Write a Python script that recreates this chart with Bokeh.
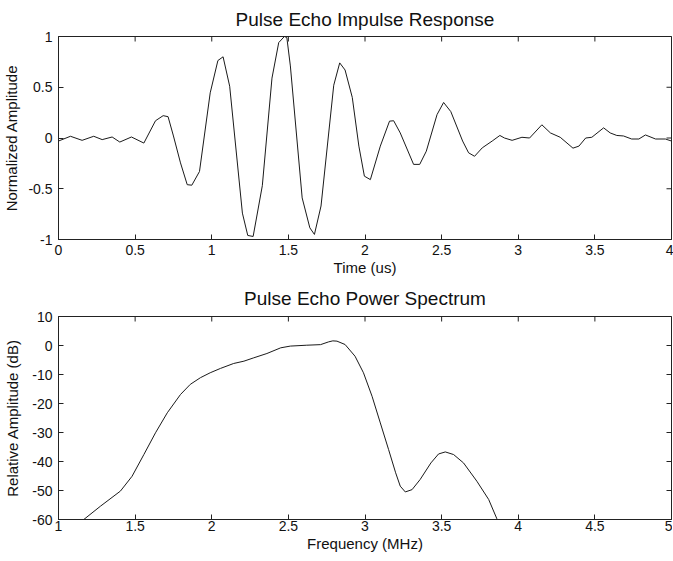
import math
from bokeh.plotting import figure
from bokeh.layouts import column
from bokeh.models import Range1d, FixedTicker
from bokeh.embed import file_html
from bokeh.resources import INLINE

# ---- data: pulse echo impulse response ----
time_us = [0.0, 0.078, 0.154, 0.23, 0.285, 0.35, 0.40, 0.476, 0.557, 0.633, 0.683, 0.715,
           0.75, 0.796, 0.84, 0.87, 0.92, 0.99, 1.04, 1.074, 1.117, 1.20, 1.235, 1.27,
           1.33, 1.393, 1.437, 1.474, 1.49, 1.513, 1.59, 1.64, 1.67, 1.713, 1.796, 1.835,
           1.87, 1.917, 1.96, 1.996, 2.035, 2.10, 2.16, 2.187, 2.23, 2.317, 2.357, 2.40,
           2.47, 2.513, 2.56, 2.637, 2.676, 2.715, 2.765, 2.83, 2.88, 2.91, 2.96, 3.024,
           3.074, 3.154, 3.21, 3.274, 3.357, 3.396, 3.44, 3.48, 3.557, 3.60, 3.643, 3.687,
           3.74, 3.787, 3.83, 3.896, 3.96, 4.0]
amplitude = [-0.03, 0.017, -0.023, 0.017, -0.016, 0.01, -0.04, 0.01, -0.05, 0.17, 0.22, 0.21,
             0.02, -0.245, -0.46, -0.465, -0.33, 0.445, 0.763, 0.80, 0.51, -0.74, -0.96, -0.97,
             -0.47, 0.59, 0.94, 1.0, 0.99, 0.71, -0.59, -0.885, -0.95, -0.67, 0.52, 0.74,
             0.67, 0.40, -0.08, -0.376, -0.41, -0.08, 0.166, 0.17, 0.05, -0.26, -0.26, -0.13,
             0.23, 0.35, 0.26, -0.03, -0.146, -0.18, -0.097, -0.03, 0.025, 0.0, -0.023, 0.007,
             0.0, 0.13, 0.05, 0.007, -0.10, -0.08, 0.0, 0.007, 0.10, 0.05, 0.025, 0.02,
             -0.01, -0.01, 0.03, -0.01, -0.01, -0.03]

# ---- data: pulse echo power spectrum ----
freq_mhz = [1.165, 1.274, 1.404, 1.48, 1.557, 1.633, 1.71, 1.796, 1.86, 1.926, 1.99, 2.057,
            2.143, 2.21, 2.274, 2.36, 2.45, 2.513, 2.62, 2.71, 2.763, 2.79, 2.817, 2.87,
            2.935, 2.99, 3.046, 3.10, 3.154, 3.20, 3.23, 3.263, 3.307, 3.36, 3.43, 3.48,
            3.524, 3.578, 3.643, 3.73, 3.807, 3.861]
power_db = [-60.0, -55.4, -50.2, -45.1, -37.6, -30.1, -23.2, -16.9, -13.4, -11.1, -9.4, -7.9,
            -6.2, -5.4, -4.25, -2.76, -0.8, -0.2, 0.1, 0.3, 1.26, 1.6, 1.5, 0.34,
            -3.7, -9.4, -17.5, -26.7, -35.9, -43.9, -48.5, -50.5, -49.7, -46.2, -40.5, -37.4,
            -36.7, -37.6, -40.5, -46.8, -53.1, -59.8]

# ---- ticks ----
time_ticks = [0, 0.5, 1, 1.5, 2, 2.5, 3, 3.5, 4]
time_tick_labels = ["0", "0.5", "1", "1.5", "2", "2.5", "3", "3.5", "4"]
amp_ticks = [-1, -0.5, 0, 0.5, 1]
amp_tick_labels = ["-1", "-0.5", "0", "0.5", "1"]
freq_ticks = [1, 1.5, 2, 2.5, 3, 3.5, 4, 4.5, 5]
freq_tick_labels = ["1", "1.5", "2", "2.5", "3", "3.5", "4", "4.5", "5"]
db_ticks = [-60, -50, -40, -30, -20, -10, 0, 10]
db_tick_labels = ["-60", "-50", "-40", "-30", "-20", "-10", "0", "10"]

FONT = "Liberation Sans"
INK = "#222222"


def style_axis(ax, ticks, labels):
    ax.ticker = FixedTicker(ticks=ticks)
    ax.major_label_overrides = {t: l for t, l in zip(ticks, labels)}
    ax.major_tick_in = 5
    ax.major_tick_out = 0
    ax.minor_tick_line_color = None
    ax.axis_line_color = INK
    ax.major_tick_line_color = INK
    ax.axis_label_text_font = FONT
    ax.axis_label_text_font_style = "normal"
    ax.axis_label_text_font_size = "15px"
    ax.axis_label_text_color = "#111111"
    ax.major_label_text_font = FONT
    ax.major_label_text_font_size = "14px"
    ax.major_label_text_color = "#111111"


def make_fig(border_top, border_bottom, title_std, xr, yr, title, xlabel, ylabel,
             xt, xtl, yt, ytl, x_std, y_lab_std):
    p = figure(frame_width=613, frame_height=203,
               x_range=Range1d(*xr), y_range=Range1d(*yr),
               output_backend="svg", toolbar_location=None,
               min_border_left=50, min_border_right=2,
               min_border_top=border_top, min_border_bottom=border_bottom)
    p.grid.visible = False
    p.outline_line_color = INK
    p.outline_line_width = 1
    p.background_fill_color = "white"
    p.border_fill_color = "white"
    p.title.text = title
    p.title.align = "center"
    p.title.text_font = FONT
    p.title.text_font_size = "19px"
    p.title.text_font_style = "normal"
    p.title.text_color = "#111111"
    p.title.standoff = title_std

    xa = p.xaxis[0]
    ya = p.yaxis[0]
    style_axis(xa, xt, xtl)
    style_axis(ya, yt, ytl)
    xa.axis_label = xlabel
    ya.axis_label = ylabel
    xa.major_label_standoff = x_std
    xa.axis_label_standoff = 1
    ya.major_label_standoff = 6
    ya.axis_label_standoff = y_lab_std

    # inward ticks on the top and right edges of the box (clipped to the frame)
    p.scatter(x=xt, y=[yr[1]] * len(xt), marker="dash", angle=math.pi / 2, size=10,
              line_color=INK, line_width=1)
    p.scatter(x=[xr[1]] * len(yt), y=yt, marker="dash", size=10,
              line_color=INK, line_width=1)
    return p


p1 = make_fig(29, 39, 13, (0, 4), (-1, 1), "Pulse Echo Impulse Response",
              "Time (us)", "Normalized Amplitude",
              time_ticks, time_tick_labels, amp_ticks, amp_tick_labels, 5, 5)
p1.line(time_us, amplitude, line_color="#1a1a1a", line_width=1)

p2 = make_fig(35, 34, 15, (1, 5), (-60, 10), "Pulse Echo Power Spectrum",
              "Frequency (MHz)", "Relative Amplitude (dB)",
              freq_ticks, freq_tick_labels, db_ticks, db_tick_labels, 1, 8)
p2.line(freq_mhz, power_db, line_color="#1a1a1a", line_width=1)

p = column(p1, p2)
open("out.html", "w").write(file_html(p, INLINE))
